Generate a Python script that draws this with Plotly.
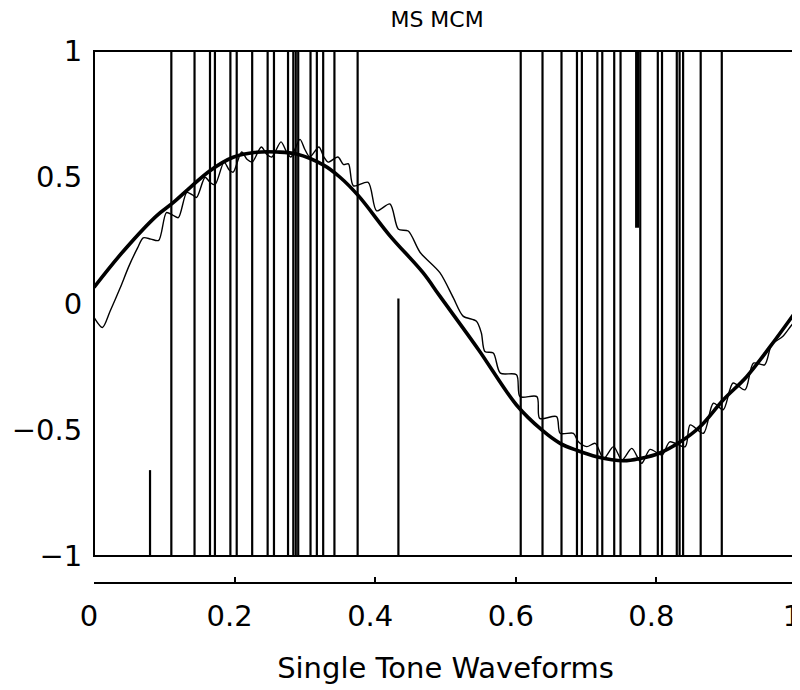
import plotly.graph_objects as go

# ---------------- data ----------------
# vertical stems (x position, upper end); all start at the bottom (-1)
stem_x = [0.0797, 0.110, 0.143, 0.165, 0.172, 0.194, 0.203, 0.225, 0.247, 0.256,
          0.276, 0.2835, 0.287, 0.2905, 0.308, 0.317, 0.326, 0.342, 0.375, 0.433,
          0.607, 0.638, 0.665, 0.687, 0.694, 0.716, 0.723, 0.740, 0.749, 0.777,
          0.802, 0.808, 0.829, 0.833, 0.838, 0.863, 0.893]
stem_top = [-0.66, 1, 1, 1, 1, 1, 1, 1, 1, 1,
            1, 1, 1, 1, 1, 1, 1, 1, 1, 0.02,
            1, 1, 1, 1, 1, 1, 1, 1, 1, 1,
            1, 1, 1, 1, 1, 1, 1]
stem_base = -1.0
# thick partial stem
bar_x = [0.7725]
bar_low = [0.30]
bar_high = [1.0]

# thick (ideal) waveform
ideal_x = [0.0, 0.042, 0.089, 0.113, 0.137, 0.165, 0.198, 0.231, 0.260, 0.288,
           0.326, 0.350, 0.376, 0.421, 0.468, 0.492, 0.547, 0.601, 0.637, 0.663,
           0.687, 0.715, 0.753, 0.777, 0.805, 0.834, 0.862, 0.895, 0.928, 0.962, 1.0]
ideal_y = [0.064, 0.208, 0.347, 0.400, 0.460, 0.526, 0.579, 0.599, 0.600, 0.592,
           0.549, 0.500, 0.427, 0.268, 0.122, 0.029, -0.183, -0.402, -0.501, -0.554,
           -0.582, -0.607, -0.623, -0.614, -0.592, -0.548, -0.488, -0.382, -0.291, -0.170, -0.025]

# thin (reconstructed) waveform
recon_x = [0.000, 0.012, 0.023, 0.037, 0.050, 0.062, 0.070, 0.081, 0.092, 0.103,
           0.112, 0.120, 0.132, 0.140, 0.146, 0.158, 0.165, 0.172, 0.185, 0.192,
           0.198, 0.210, 0.218, 0.225, 0.238, 0.246, 0.253, 0.266, 0.274, 0.280,
           0.293, 0.300, 0.307, 0.320, 0.327, 0.333, 0.347, 0.355, 0.362, 0.369,
           0.390, 0.402, 0.421, 0.433, 0.447, 0.464, 0.492, 0.511, 0.525, 0.544,
           0.551, 0.556, 0.568, 0.578, 0.601, 0.606, 0.630, 0.634, 0.658, 0.663,
           0.682, 0.689, 0.701, 0.713, 0.725, 0.739, 0.751, 0.765, 0.779, 0.791,
           0.808, 0.819, 0.841, 0.848, 0.867, 0.881, 0.895, 0.909, 0.926, 0.938,
           0.954, 0.964, 0.980, 0.995, 1.0]
recon_y = [-0.055, -0.095, -0.030, 0.060, 0.150, 0.220, 0.260, 0.255, 0.250, 0.360,
           0.350, 0.340, 0.440, 0.430, 0.420, 0.500, 0.480, 0.470, 0.560, 0.530,
           0.520, 0.600, 0.570, 0.560, 0.620, 0.590, 0.580, 0.640, 0.600, 0.580,
           0.650, 0.610, 0.580, 0.620, 0.580, 0.560, 0.580, 0.550, 0.553, 0.466,
           0.480, 0.367, 0.394, 0.294, 0.287, 0.202, 0.122, 0.023, -0.050, -0.070,
           -0.117, -0.190, -0.196, -0.276, -0.282, -0.369, -0.369, -0.455, -0.448, -0.514,
           -0.514, -0.548, -0.567, -0.554, -0.614, -0.567, -0.620, -0.574, -0.633, -0.578,
           -0.600, -0.548, -0.567, -0.481, -0.514, -0.395, -0.421, -0.315, -0.342, -0.236,
           -0.243, -0.163, -0.130, -0.077, -0.070]

x_ticks = [0, 0.2, 0.4, 0.6, 0.8, 1]
x_tick_text = ["0", "0.2", "0.4", "0.6", "0.8", "1"]
y_ticks = [-1, -0.5, 0, 0.5, 1]
y_tick_text = ["\u22121", "\u22120.5", "0", "0.5", "1"]

# ---------------- figure ----------------
FONT = "DejaVu Sans"
fig = go.Figure()

sx, sy = [], []
for x, t in zip(stem_x, stem_top):
    sx += [x, x, None]
    sy += [stem_base, t, None]
fig.add_trace(go.Scatter(x=sx, y=sy, mode="lines",
                         line=dict(color="black", width=2.2), hoverinfo="skip"))

bx, by = [], []
for x, lo, hi in zip(bar_x, bar_low, bar_high):
    bx += [x, x, None]
    by += [lo, hi, None]
fig.add_trace(go.Scatter(x=bx, y=by, mode="lines",
                         line=dict(color="black", width=4), hoverinfo="skip"))

fig.add_trace(go.Scatter(x=ideal_x, y=ideal_y, mode="lines",
                         line=dict(color="black", width=3.6, shape="spline", smoothing=1.0)))
fig.add_trace(go.Scatter(x=recon_x, y=recon_y, mode="lines",
                         line=dict(color="black", width=1.4, shape="spline", smoothing=0.8)))

# end-cap ticks of the detached x axis
fig.add_trace(go.Scatter(x=[0, 1], y=[None, None], xaxis="x2", yaxis="y",
                         mode="lines", showlegend=False))

# the page body adds an 8 px offset, margins compensate for it
fig.update_layout(
    width=800, height=690,
    margin=dict(l=86, r=11, t=43, b=115, autoexpand=False),
    paper_bgcolor="white", plot_bgcolor="white",
    showlegend=False,
    font=dict(family=FONT, color="black", size=29),
    title=dict(text="MS MCM", x=0.488, xanchor="center", xref="paper",
               y=1 - 11 / 690, yref="container", yanchor="middle",
               font=dict(size=22, family=FONT)),
    xaxis=dict(range=[0, 1], anchor="free", position=0, automargin=False,
               showline=True, linecolor="black", linewidth=2,
               ticks="inside", ticklen=5, tickwidth=1.5, tickcolor="black",
               tickvals=x_ticks, ticktext=x_tick_text,
               ticklabelstandoff=7, ticklabelshift=-5, ticklabeloverflow="allow",
               showgrid=False, zeroline=False,
               title=dict(text="Single Tone Waveforms", standoff=25,
                          font=dict(size=29, family=FONT))),
    xaxis2=dict(range=[0, 1], anchor="free", position=0, overlaying="x",
                automargin=False,
                showline=False, ticks="inside", ticklen=23, tickwidth=1.5,
                tickcolor="black", tickvals=[0, 1], showticklabels=False,
                showgrid=False, zeroline=False),
    yaxis=dict(range=[-1, 1], domain=[0.0508, 1], automargin=False,
               showline=False, ticks="outside", ticklen=5,
               tickcolor="rgba(0,0,0,0)",
               tickvals=y_ticks, ticktext=y_tick_text,
               showgrid=False, zeroline=False),
)

# plot frame
fig.add_shape(type="rect", xref="x domain", yref="y domain",
              x0=0, x1=1, y0=0, y1=1, line=dict(color="black", width=2),
              layer="above")

fig.write_html("out.html")
